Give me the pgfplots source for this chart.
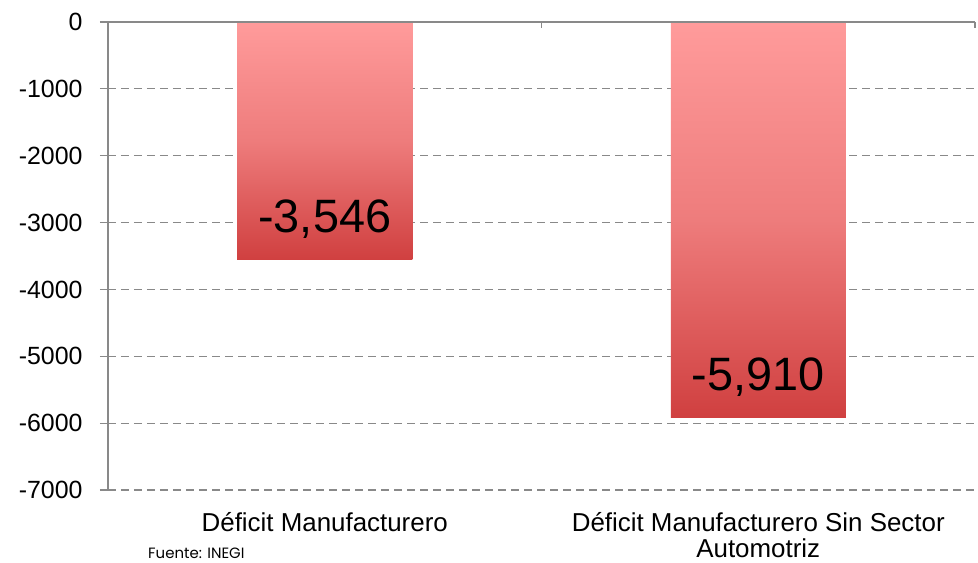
\documentclass[border=0pt]{standalone}
\usepackage{pgfplots}
\pgfplotsset{compat=1.18}
\usepackage{fontspec}
\setmainfont{Liberation Sans}
\newfontfamily\fuente{Poppins}
\definecolor{axgray}{RGB}{137,137,137}
\definecolor{bartop}{RGB}{255,155,155}
\definecolor{barmid}{RGB}{238,124,124}
\definecolor{barbot}{RGB}{208,64,64}
\begin{document}
\begin{tikzpicture}
\begin{axis}[
  scale only axis, width=867bp, height=468bp,
  xmin=-0.5, xmax=1.5, ymin=-7000, ymax=0,
  clip=false,
  xtick={0,1},
  xticklabels={Déficit Manufacturero, {Déficit Manufacturero Sin Sector\\Automotriz}},
  x tick label style={font=\fontsize{26}{26.5}\selectfont, align=center, yshift=-11bp},
  major x tick style={draw=none},
  ytick={-7000,-6000,...,0},
  y tick label style={font=\fontsize{25}{27}\selectfont, xshift=-14bp, /pgf/number format/1000 sep={}},
  /pgf/number format/assume math mode=true,
  axis lines*=left,
  x axis line style={draw=none},
  y axis line style={axgray, line width=1.2pt},
  y tick style={axgray, line width=1.2pt},
  tick align=outside, major tick length=8bp,
  ymajorgrids, grid style={axgray, line width=1.2pt, dash pattern=on 8bp off 5bp},
  ybar, bar width=175bp,
  nodes near coords={\pgfmathprintnumber[assume math mode=true,1000 sep={,},fixed,precision=0]{\pgfplotspointmeta}},
  every node near coord/.append style={anchor=base, yshift=27bp, font=\fontsize{47}{50}\selectfont, text=black},
]
\addplot[draw=none, bar shift=0pt, top color=bartop, bottom color=barbot, middle color=barmid] coordinates {(0,-3546)};
\addplot[draw=none, bar shift=0pt, top color=bartop, bottom color=barbot, middle color=barmid] coordinates {(1,-5910)};
\draw[axgray, line width=1.2pt] (axis cs:-0.5,0) -- (axis cs:1.5,0);
\draw[axgray, line width=1.2pt] (axis cs:0.5,0) -- ([yshift=-6bp]axis cs:0.5,0);
\draw[axgray, line width=1.2pt] (axis cs:1.5,0) -- ([yshift=-6bp]axis cs:1.5,0);
\end{axis}
\node[anchor=base west, font=\fuente\fontsize{15}{16}\selectfont, inner sep=0pt] at (40bp,-68bp) {Fuente: INEGI};
\pgfresetboundingbox
\path (-108bp,-73bp) rectangle (870bp,490bp);
\end{tikzpicture}
\end{document}
